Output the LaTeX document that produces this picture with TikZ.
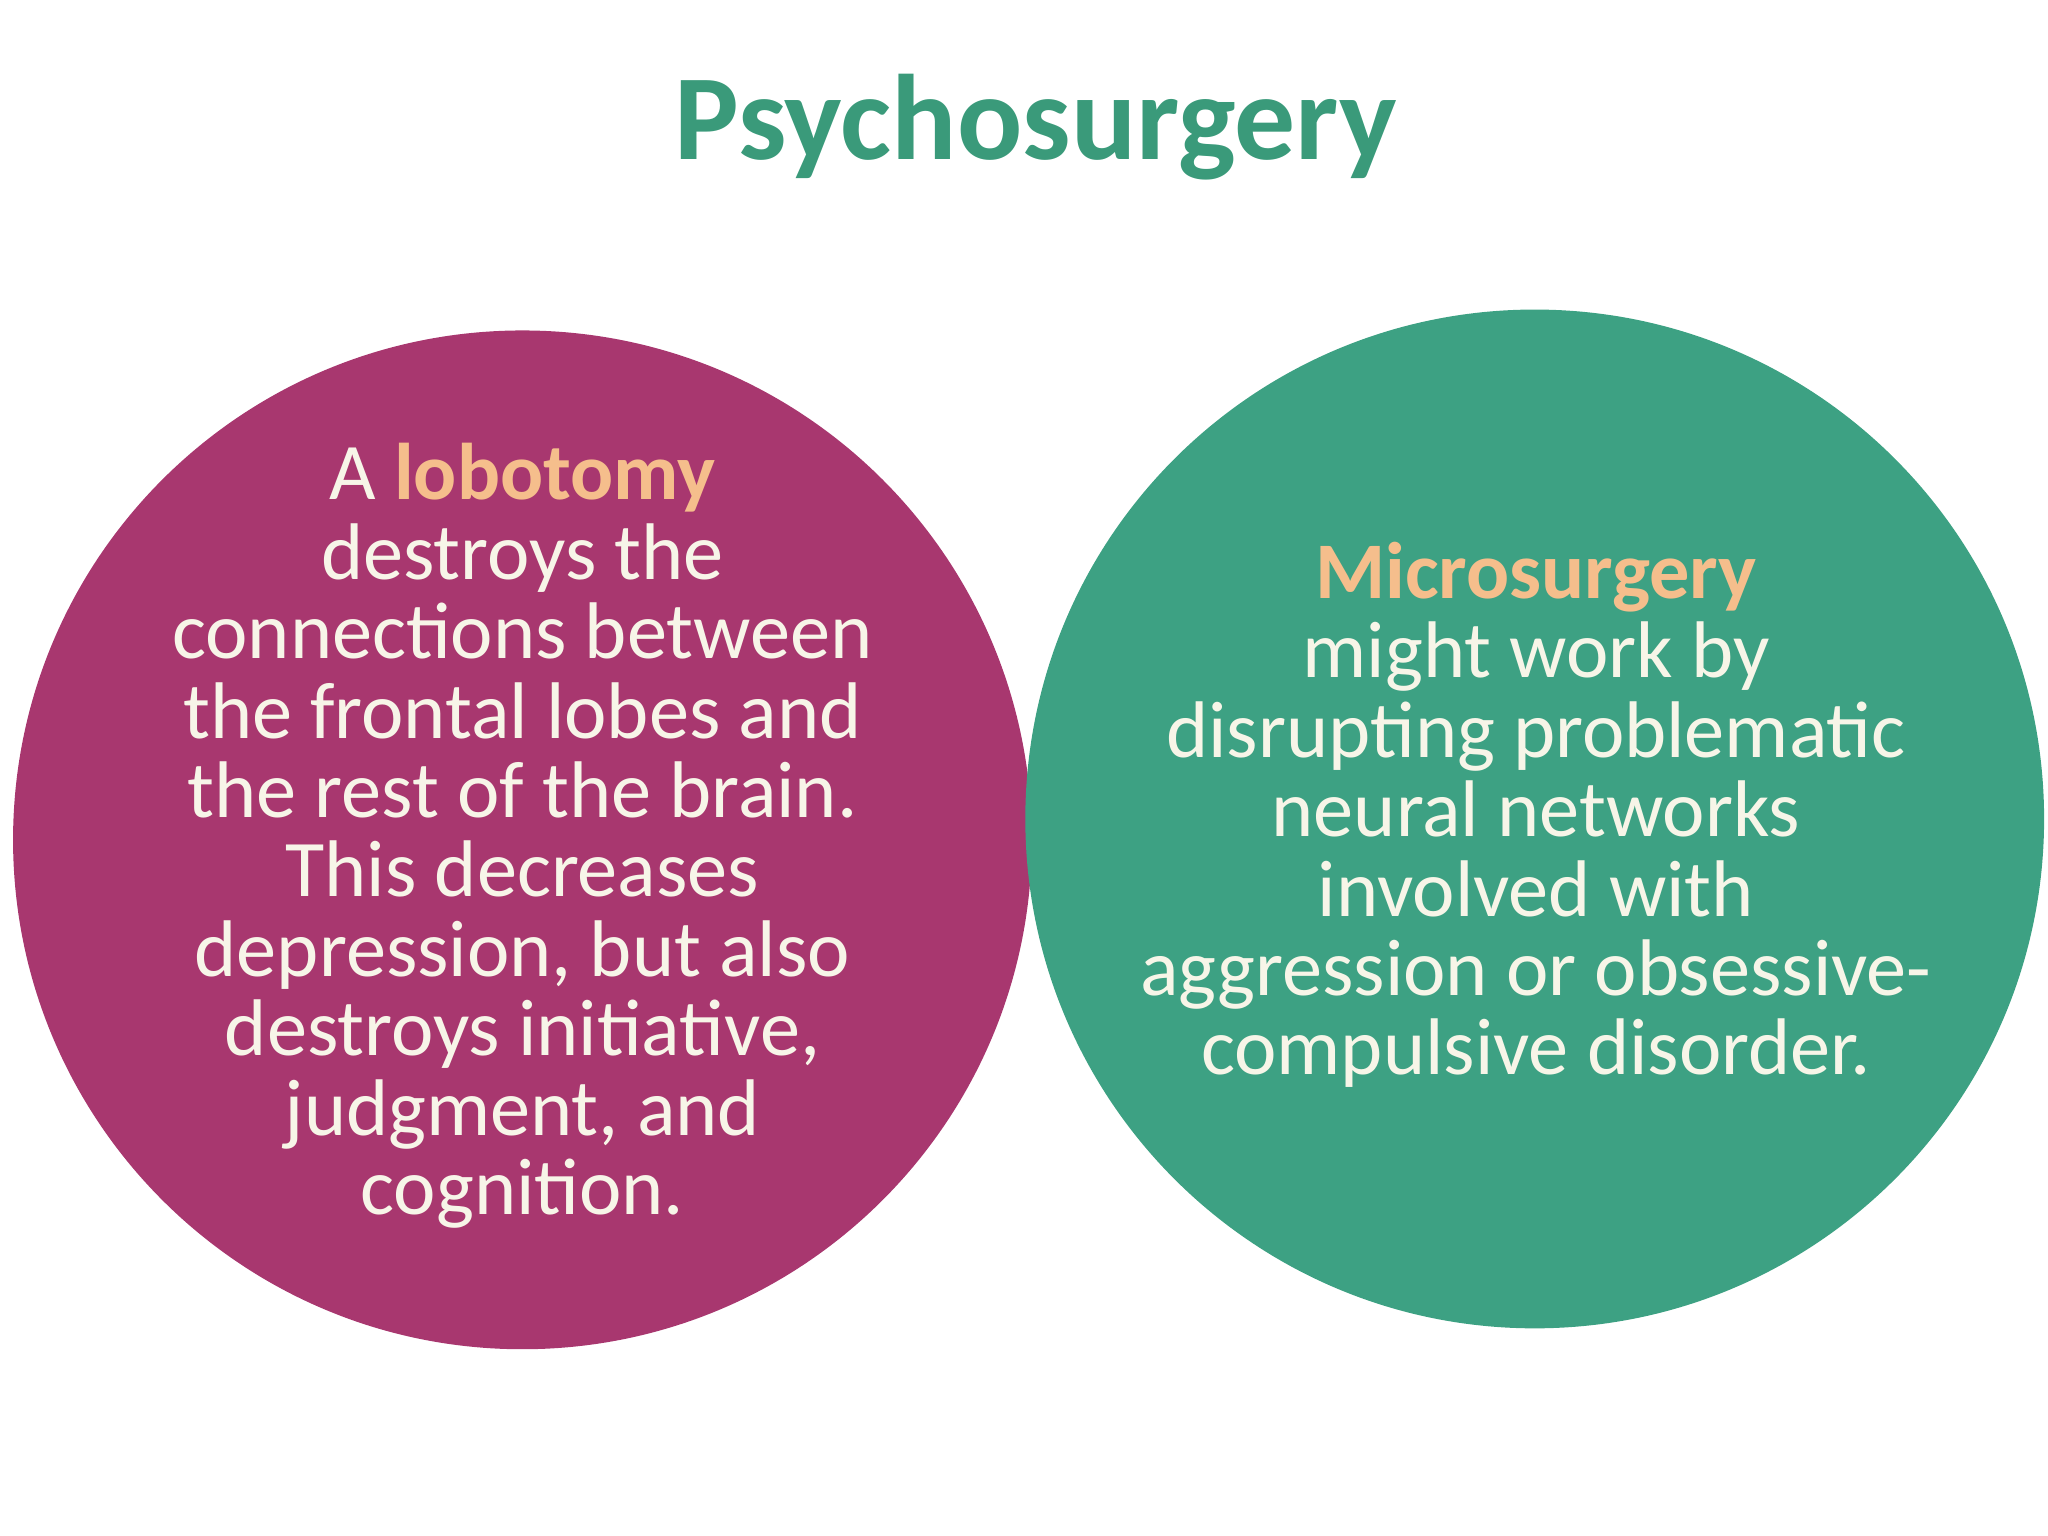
\documentclass[tikz,border=0pt]{standalone}
\usepackage{fontspec}
\setmainfont{Carlito}
\definecolor{mag}{HTML}{A8376F}
\definecolor{grn}{HTML}{3DA183}
\definecolor{ttl}{HTML}{3A9A7A}
\definecolor{hl}{HTML}{F5BE8C}
\definecolor{txt}{HTML}{F7F5E8}
\begin{document}
\begin{tikzpicture}[x=0.02cm,y=-0.02cm,
  body/.style={align=center,text=txt,font=\fontsize{35}{34.6}\selectfont}]
\useasboundingbox (0,0) rectangle (1568,1176);
\node[font=\fontsize{53}{60}\selectfont\bfseries,text=ttl] (title) at (793,97) {Psychosurgery};
\fill[mag] (400,643) circle (390);
\fill[grn] (1175,627) circle (390);
\node[body] (left) at (400,640) {A \textcolor{hl}{\bfseries lobotomy}\\destroys the\\connections between\\the frontal lobes and\\the rest of the brain.\\This decreases\\depression, but also\\destroys initiative,\\judgment, and\\cognition.};
\node[body] (right) at (1176,624) {\textcolor{hl}{\bfseries Microsurgery}\\might work by\\disrupting problematic\\neural networks\\involved with\\aggression or obsessive-\\compulsive disorder.};
\end{tikzpicture}
\end{document}
